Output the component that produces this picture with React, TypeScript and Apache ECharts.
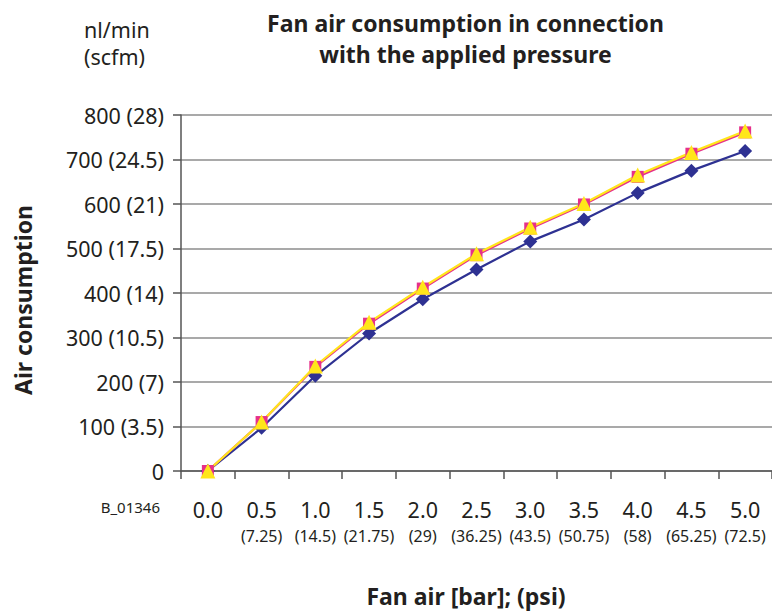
import React, { useEffect, useRef } from 'react';
import * as echarts from 'echarts';

const categories = ['0.0', '0.5', '1.0', '1.5', '2.0', '2.5', '3.0', '3.5', '4.0', '4.5', '5.0'];
const psiLabels = ['', '(7.25)', '(14.5)', '(21.75)', '(29)', '(36.25)', '(43.5)', '(50.75)', '(58)', '(65.25)', '(72.5)'];
const yTickLabels = ['0', '100 (3.5)', '200 (7)', '300 (10.5)', '400 (14)', '500 (17.5)', '600 (21)', '700 (24.5)', '800 (28)'];

const seriesBlue = [0, 97, 214, 309, 386, 453, 516, 565, 625, 675, 719];
const seriesPink = [0, 110, 234, 331, 410, 485, 545, 599, 661, 713, 761];
const seriesYellow = [0, 110, 236, 334, 413, 488, 548, 601, 665, 716, 764];

const FONT = '"Noto Sans", sans-serif';
const TEXT = '#231f20';

export default function App() {
  const ref = useRef<HTMLDivElement>(null);

  useEffect(() => {
    document.body.style.margin = '0';
    if (!ref.current) return;
    const chart = echarts.init(ref.current, undefined, { renderer: 'svg' });
    chart.setOption({
      animation: false,
      textStyle: { fontFamily: FONT },
      grid: { left: 181, right: -3, top: 115, bottom: 144, containLabel: false },
      xAxis: {
        type: 'category',
        data: categories,
        boundaryGap: true,
        axisLine: { show: true, lineStyle: { color: '#555', width: 1.5 } },
        axisTick: { show: true, length: 8, interval: 0, lineStyle: { color: '#555', width: 1.5 } },
        axisLabel: {
          interval: 0,
          margin: 25,
          formatter: (v: string, i: number) => `{a|${v}}\n{b|${psiLabels[i] || ' '}}`,
          rich: {
            a: { fontSize: 21.5, lineHeight: 26, color: TEXT, fontFamily: FONT },
            b: { fontSize: 16, lineHeight: 28, color: TEXT, fontFamily: FONT },
          },
        },
        splitLine: { show: false },
      },
      yAxis: {
        type: 'value',
        min: 0,
        max: 800,
        interval: 100,
        axisLine: { show: true, lineStyle: { color: '#555', width: 1.5 } },
        axisTick: { show: true, length: 8, lineStyle: { color: '#555', width: 1.5 } },
        axisLabel: {
          margin: 17,
          fontSize: 21.5,
          color: TEXT,
          fontFamily: FONT,
          formatter: (v: number) => yTickLabels[Math.round(v / 100)],
        },
        splitLine: { show: true, lineStyle: { color: '#8c8c8c', width: 1.5 } },
      },
      series: [
        {
          type: 'line',
          data: seriesBlue,
          symbol: 'diamond',
          symbolSize: 14,
          lineStyle: { color: '#2e3192', width: 2.2 },
          itemStyle: { color: '#2e3192' },
        },
        {
          type: 'line',
          data: seriesPink,
          symbol: 'rect',
          symbolSize: 12,
          lineStyle: { color: '#e6308a', width: 2.2 },
          itemStyle: { color: '#e6308a' },
        },
        {
          type: 'line',
          data: seriesYellow,
          symbol: 'triangle',
          symbolSize: 15,
          lineStyle: { color: '#ffe61a', width: 2.2 },
          itemStyle: { color: '#ffe61a' },
        },
      ],
      graphic: [
        {
          type: 'text',
          x: 465.5,
          y: 22.8,
          style: { text: 'Fan air consumption in connection', font: `bold 23px ${FONT}`, fill: TEXT, textAlign: 'center', textVerticalAlign: 'middle' },
        },
        {
          type: 'text',
          x: 465.5,
          y: 54.4,
          style: { text: 'with the applied pressure', font: `bold 23px ${FONT}`, fill: TEXT, textAlign: 'center', textVerticalAlign: 'middle' },
        },
        {
          type: 'text',
          x: 84,
          y: 29.5,
          style: { text: 'nl/min', font: `21.5px ${FONT}`, fill: TEXT, textAlign: 'left', textVerticalAlign: 'middle' },
        },
        {
          type: 'text',
          x: 84,
          y: 56.3,
          style: { text: '(scfm)', font: `21.5px ${FONT}`, fill: TEXT, textAlign: 'left', textVerticalAlign: 'middle' },
        },
        {
          type: 'text',
          x: 22.8,
          y: 300,
          rotation: Math.PI / 2,
          style: { text: 'Air consumption', font: `bold 23px ${FONT}`, fill: TEXT, textAlign: 'center', textVerticalAlign: 'middle' },
        },
        {
          type: 'text',
          x: 466,
          y: 596,
          style: { text: 'Fan air [bar]; (psi)', font: `bold 23px ${FONT}`, fill: TEXT, textAlign: 'center', textVerticalAlign: 'middle' },
        },
        {
          type: 'text',
          x: 100.7,
          y: 507,
          style: { text: 'B_01346', font: `15px ${FONT}`, fill: TEXT, textAlign: 'left', textVerticalAlign: 'middle' },
        },
      ],
    });
    return () => chart.dispose();
  }, []);

  return <div ref={ref} style={{ width: 772, height: 615 }} />;
}
